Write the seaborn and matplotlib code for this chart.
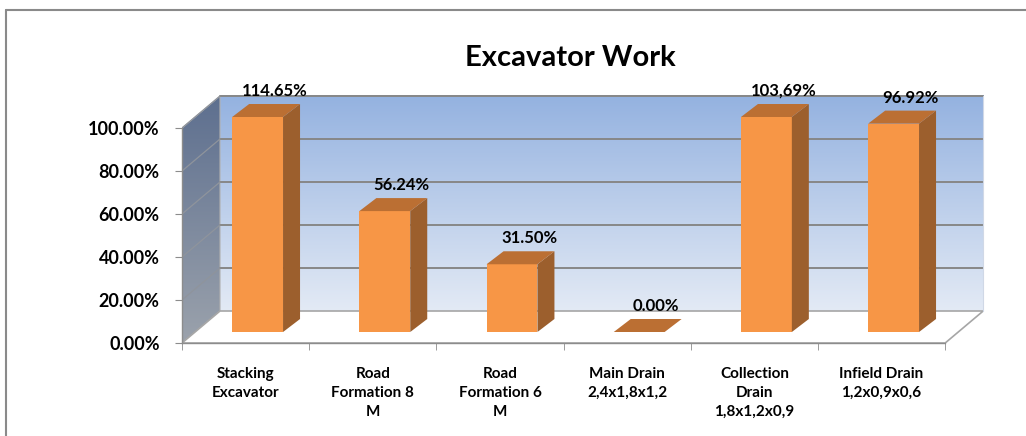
import numpy as np
import pandas as pd
import matplotlib
matplotlib.use('Agg')
import matplotlib.pyplot as plt
import seaborn as sns
from matplotlib.patches import Polygon
from matplotlib.colors import LinearSegmentedColormap

# chart data
categories = ['Stacking\nExcavator', 'Road\nFormation 8\nM', 'Road\nFormation 6\nM',
              'Main Drain\n2,4x1,8x1,2', 'Collection\nDrain\n1,8x1,2x0,9', 'Infield Drain\n1,2x0,9x0,6']
values = [1.1465, 0.5624, 0.3150, 0.0, 1.0369, 0.9692]
value_labels = ['114.65%', '56.24%', '31.50%', '0.00%', '103,69%', '96.92%']
y_ticks = [0.0, 0.2, 0.4, 0.6, 0.8, 1.0]
y_tick_labels = ['0.00%', '20.00%', '40.00%', '60.00%', '80.00%', '100.00%']
axis_max = 1.0

sns.set_style('white')
plt.rcParams['font.family'] = ['Lato', 'DejaVu Sans']
plt.rcParams['text.color'] = 'black'
plt.rcParams['xtick.color'] = 'black'
plt.rcParams['ytick.color'] = 'black'

W, H = 1026, 436
PX_X, PX_Y = 127.2, 215.0          # pixels per category / per 100%
DX, DY = 38 / PX_X, 32 / PX_Y      # wall depth
BX, BY = 12 / PX_X, 11 / PX_Y      # bar front offset into the box
BDX, BDY = 17 / PX_X, 13 / PX_Y    # bar depth

fig = plt.figure(figsize=(W / 100, H / 100), dpi=100)
left_px, right_px, top_px, base_px = 182, 990, 80, 343
ax = fig.add_axes([left_px / W, (H - base_px) / H, (right_px - left_px) / W, (base_px - top_px) / H])
xlim = (-0.5, -0.5 + (right_px - left_px) / PX_X)
ylim = (0, (base_px - top_px) / PX_Y)

df = pd.DataFrame({'category': categories, 'value': values})
df['shown'] = np.minimum(df['value'], axis_max)   # excel clips at axis max

sns.barplot(data=df, x='category', y='shown', color='#F79646', saturation=1,
            width=0.4, edgecolor='none', ax=ax, zorder=3)
bars = list(ax.containers[0])

n = len(categories)
x0, x1 = -0.5, n - 0.5

# back wall gradient
grad = np.linspace(0, 1, 256).reshape(-1, 1)
back_cmap = LinearSegmentedColormap.from_list('back', ['#e3eaf5', '#94b2e0'])
ax.imshow(grad, extent=[x0 + DX, x1 + DX, DY, DY + axis_max], origin='lower',
          aspect='auto', cmap=back_cmap, zorder=0)

# left wall gradient, clipped to parallelogram
side_cmap = LinearSegmentedColormap.from_list('side', ['#9ba2ac', '#5d6f8f'])
side_poly = Polygon([(x0, 0), (x0, axis_max), (x0 + DX, axis_max + DY), (x0 + DX, DY)],
                    closed=True, facecolor='none', edgecolor='#b0b0b0', lw=0.8, zorder=0.5)
ax.add_patch(side_poly)
im = ax.imshow(grad, extent=[x0, x0 + DX, 0, axis_max + DY], origin='lower',
               aspect='auto', cmap=side_cmap, zorder=0)
im.set_clip_path(side_poly)

# floor
ax.add_patch(Polygon([(x0, 0), (x1, 0), (x1 + DX, DY), (x0 + DX, DY)], closed=True,
                     facecolor='white', edgecolor='#a6a6a6', lw=1.2, zorder=1))

# gridlines on back wall and left wall
for t in y_ticks[1:]:
    ax.plot([x0 + DX, x1 + DX], [t + DY, t + DY], color='#878787', lw=1.4, zorder=1.5)
    ax.plot([x0, x0 + DX], [t, t + DY], color='#8f949c', lw=0.9, zorder=1.5)
ax.plot([x1 + DX, x1 + DX], [DY, DY + axis_max], color='#d0d8e6', lw=0.8, zorder=1.5)

# 3d bars: shift the fronts back and add side/top faces
for bar, lab in zip(bars, value_labels):
    bar.set_x(bar.get_x() + BX)
    bar.set_y(bar.get_y() + BY)
    bl, bw = bar.get_x(), bar.get_width()
    yb, yt = bar.get_y(), bar.get_y() + bar.get_height()
    br = bl + bw
    if bar.get_height() > 0:
        ax.add_patch(Polygon([(br, yb), (br, yt), (br + BDX, yt + BDY), (br + BDX, yb + BDY)],
                             closed=True, facecolor='#9c5f2d', edgecolor='none', zorder=3))
    ax.add_patch(Polygon([(bl, yt), (br, yt), (br + BDX, yt + BDY), (bl + BDX, yt + BDY)],
                         closed=True, facecolor='#bb6f33', edgecolor='none', zorder=3))
    ax.text(bl + bw / 2 + BDX, yt + BDY + 13 / PX_Y, lab, ha='center', va='center',
            fontsize=12, fontweight='bold', zorder=4)

ax.set_xlim(*xlim)
ax.set_ylim(*ylim)

for s in ['top', 'right']:
    ax.spines[s].set_visible(False)
ax.spines['left'].set_bounds(0, axis_max)
ax.spines['bottom'].set_bounds(x0, x1)
for s in ['left', 'bottom']:
    ax.spines[s].set_color('#8c8c8c')
    ax.spines[s].set_linewidth(1.0)
    ax.spines[s].set_zorder(2)

ax.set_yticks(y_ticks)
ax.set_yticklabels(y_tick_labels, fontsize=13, fontweight='bold')
ax.tick_params(axis='y', left=True, length=5, color='#8c8c8c', pad=11)
ax.set_xticks(range(n))
ax.set_xticklabels(categories, fontsize=11, fontweight='bold', linespacing=1.45)
ax.set_xticks(np.arange(x0, x1 + 0.01, 1), minor=True)
ax.tick_params(axis='x', which='major', length=0, pad=17)
ax.tick_params(axis='x', which='minor', bottom=True, length=5, color='#8c8c8c')
ax.set_xlabel('')
ax.set_ylabel('')
ax.patch.set_alpha(0)

fig.text(570 / W, 1 - 58 / H, 'Excavator Work', ha='center', va='center',
         fontsize=21, fontweight='bold')

# outer chart border (top and left edges visible)
fig.add_artist(plt.Line2D([6 / W, 1], [1 - 10 / H, 1 - 10 / H], transform=fig.transFigure,
                          color='#8a8a8a', lw=1.5))
fig.add_artist(plt.Line2D([6 / W, 6 / W], [0, 1 - 10 / H], transform=fig.transFigure,
                          color='#8a8a8a', lw=1.5))

fig.savefig('out.png', dpi=100)
